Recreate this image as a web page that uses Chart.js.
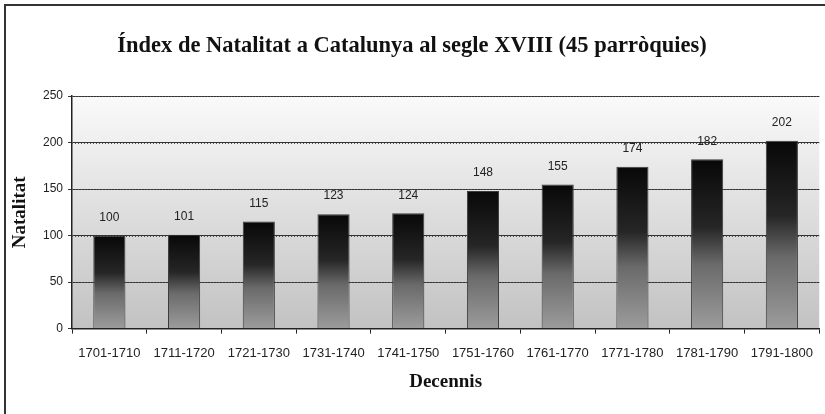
<!DOCTYPE html>
<html lang="ca">
<head>
    <meta charset="UTF-8">
    <title>Índex de Natalitat a Catalunya</title>
    <script src="https://cdn.jsdelivr.net/npm/chart.js"></script>
    <style>
        body { margin: 0; padding: 0; background: #fff; }
        #wrap { position: relative; width: 825px; height: 414px; }
        #grafic { position: absolute; left: 0; top: 0; }
        #marc {
            position: absolute; left: 4px; top: 4px; width: 830px; height: 420px;
            border-left: 2px solid #333; border-top: 2px solid #333;
            pointer-events: none;
        }
    </style>
</head>
<body>
<div id="wrap">
    <canvas id="grafic" width="825" height="414"></canvas>
    <div id="marc"></div>
</div>
<script>
    const decennis = ['1701-1710', '1711-1720', '1721-1730', '1731-1740', '1741-1750',
                      '1751-1760', '1761-1770', '1771-1780', '1781-1790', '1791-1800'];
    const natalitat = [100, 101, 115, 123, 124, 148, 155, 174, 182, 202];
    const ticksY = [0, 50, 100, 150, 200, 250];

    // fons degradat de l'àrea del gràfic
    const fonsPlugin = {
        id: 'fons',
        beforeDraw(chart) {
            const { ctx, chartArea: a } = chart;
            const g = ctx.createLinearGradient(0, a.top, 0, a.bottom);
            g.addColorStop(0, '#fafafa');
            g.addColorStop(0.5, '#dedede');
            g.addColorStop(1, '#c2c2c2');
            ctx.save();
            ctx.fillStyle = g;
            ctx.fillRect(a.left, a.top, a.right - a.left, a.bottom - a.top);
            ctx.restore();
        }
    };

    // etiquetes de valor sobre les barres
    const etiquetesPlugin = {
        id: 'etiquetes',
        afterDatasetsDraw(chart) {
            const { ctx } = chart;
            const meta = chart.getDatasetMeta(0);
            ctx.save();
            ctx.font = '12px "Liberation Sans", Arial, sans-serif';
            ctx.fillStyle = '#222';
            ctx.textAlign = 'center';
            ctx.textBaseline = 'middle';
            meta.data.forEach((bar, i) => {
                ctx.fillText(String(natalitat[i]), bar.x, bar.y - 18);
            });
            ctx.restore();
        }
    };

    function degradatBarra(context) {
        const chart = context.chart;
        const a = chart.chartArea;
        if (!a || context.type !== 'data') return '#333';
        const y = chart.scales.y;
        const top = y.getPixelForValue(context.parsed.y);
        const bottom = y.getPixelForValue(0);
        const g = chart.ctx.createLinearGradient(0, top, 0, bottom);
        g.addColorStop(0, '#080808');
        g.addColorStop(0.4, '#262626');
        g.addColorStop(0.62, '#6a6a6a');
        g.addColorStop(1, '#9c9c9c');
        return g;
    }

    new Chart(document.getElementById('grafic'), {
        type: 'bar',
        data: {
            labels: decennis,
            datasets: [{
                data: natalitat,
                backgroundColor: degradatBarra,
                borderColor: '#3a3a3a',
                borderWidth: 1,
                categoryPercentage: 1,
                barPercentage: 0.43
            }]
        },
        options: {
            responsive: false,
            animation: false,
            layout: { padding: { left: 0, right: 1, top: 0, bottom: 21 } },
            plugins: {
                legend: { display: false },
                tooltip: { enabled: false },
                title: {
                    display: true,
                    text: 'Índex de Natalitat a Catalunya al segle XVIII (45 parròquies)',
                    font: { family: '"Liberation Serif", serif', size: 22.5, weight: 'bold' },
                    color: '#111',
                    padding: { top: 33, bottom: 36 }
                }
            },
            scales: {
                x: {
                    grid: { display: true, drawOnChartArea: false, tickLength: 5, color: '#222', offset: true },
                    border: { display: true, color: '#222', width: 1.5 },
                    ticks: {
                        font: { family: '"Liberation Sans", Arial, sans-serif', size: 13 },
                        color: '#222',
                        padding: 12,
                        maxRotation: 0,
                        autoSkip: false
                    },
                    title: {
                        display: true,
                        text: 'Decennis',
                        font: { family: '"Liberation Serif", serif', size: 19, weight: 'bold' },
                        color: '#111',
                        padding: { top: -3, bottom: 0 }
                    }
                },
                y: {
                    min: 0,
                    max: 250,
                    afterBuildTicks(scale) {
                        scale.ticks = ticksY.map(v => ({ value: v }));
                    },
                    afterFit(scale) { scale.width = 72; },
                    grid: {
                        color: '#333',
                        tickLength: 4,
                        lineWidth: 1
                    },
                    border: { display: true, color: '#222', width: 1.5 },
                    ticks: {
                        font: { family: '"Liberation Sans", Arial, sans-serif', size: 12 },
                        color: '#222',
                        padding: 5
                    },
                    title: {
                        display: true,
                        text: 'Natalitat',
                        font: { family: '"Liberation Serif", serif', size: 19, weight: 'bold' },
                        color: '#111',
                        padding: { top: 9, bottom: 0 }
                    }
                }
            }
        },
        plugins: [fonsPlugin, etiquetesPlugin, {
            id: 'puntejat',
            beforeDatasetsDraw(chart) {
                // línies de quadrícula puntejades
                const { ctx, chartArea: a, scales: { y } } = chart;
                ctx.save();
                ctx.strokeStyle = '#555';
                ctx.lineWidth = 1;
                ctx.setLineDash([1, 2]);
                ticksY.forEach(v => {
                    if (v === 0) return;
                    const py = Math.round(y.getPixelForValue(v)) + 0.5;
                    ctx.beginPath();
                    ctx.moveTo(a.left, py);
                    ctx.lineTo(a.right, py);
                    ctx.stroke();
                });
                ctx.restore();
            }
        }]
    });
</script>
</body>
</html>
